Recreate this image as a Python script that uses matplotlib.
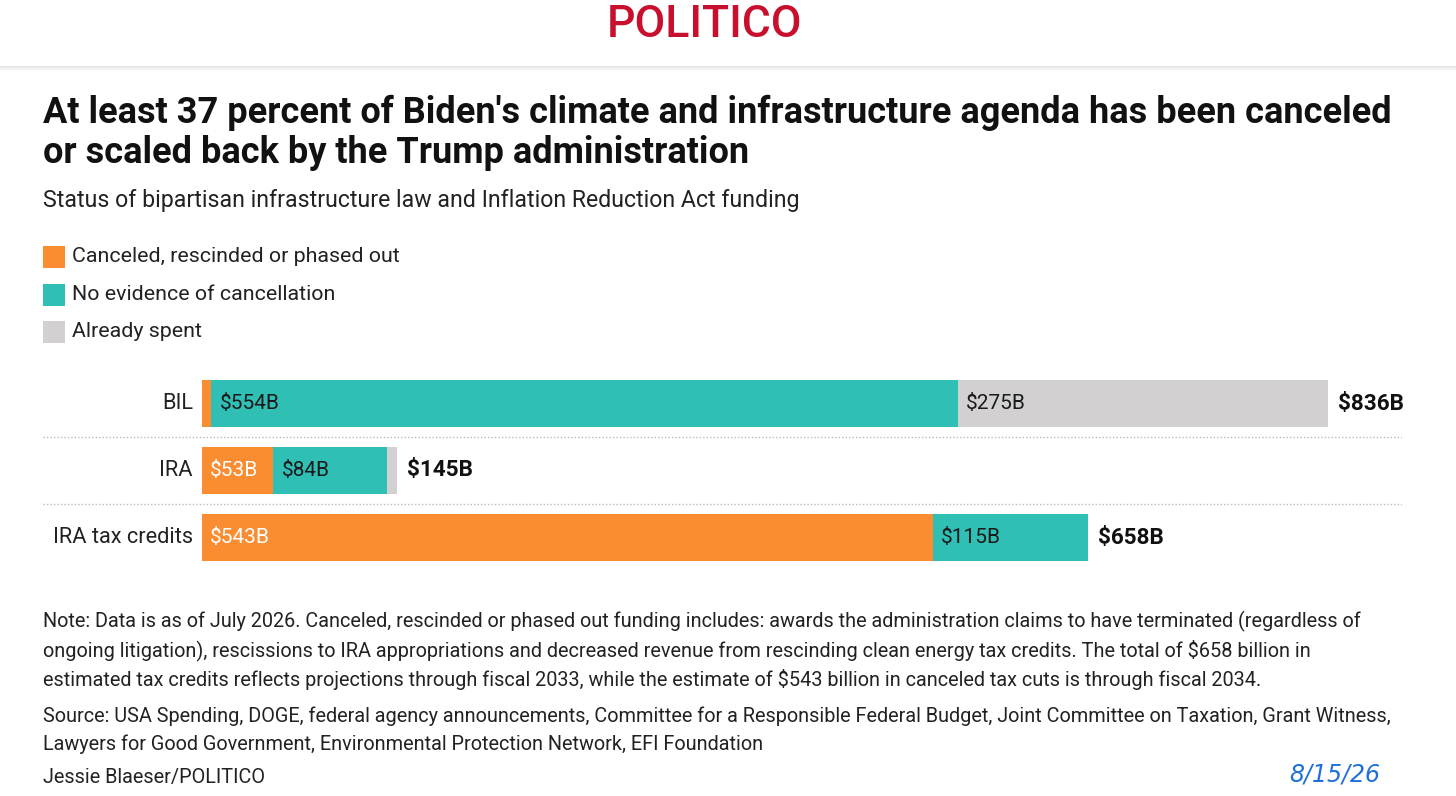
import matplotlib
matplotlib.use("Agg")
import matplotlib.pyplot as plt
from matplotlib.patches import Rectangle

plt.rcParams['font.family'] = ['Roboto', 'DejaVu Sans']

# ---- data ----
categories = ["BIL", "IRA", "IRA tax credits"]
canceled = [7, 53, 543]
no_evidence = [554, 84, 115]
spent = [275, 8, 0]
totals = [836, 145, 658]
series_names = ["Canceled, rescinded or phased out", "No evidence of cancellation", "Already spent"]
colors = ["#FA8C32", "#2FBFB5", "#D2D0D1"]
show_label = [[False, True, True], [True, True, False], [True, True, False]]

title = ("At least 37 percent of Biden's climate and infrastructure agenda has been canceled\n"
         "or scaled back by the Trump administration")
subtitle = "Status of bipartisan infrastructure law and Inflation Reduction Act funding"
note = ("Note: Data is as of July 2026. Canceled, rescinded or phased out funding includes: awards the administration claims to have terminated (regardless of\n"
        "ongoing litigation), rescissions to IRA appropriations and decreased revenue from rescinding clean energy tax credits. The total of $658 billion in\n"
        "estimated tax credits reflects projections through fiscal 2033, while the estimate of $543 billion in canceled tax cuts is through fiscal 2034.")
source = ("Source: USA Spending, DOGE, federal agency announcements, Committee for a Responsible Federal Budget, Joint Committee on Taxation, Grant Witness,\n"
          "Lawyers for Good Government, Environmental Protection Network, EFI Foundation")
credit = "Jessie Blaeser/POLITICO"

W, H = 1456, 796
fig = plt.figure(figsize=(W / 100, H / 100), dpi=100)
fig.patch.set_facecolor("white")

def fx(x):
    return x / W

def fy(y):
    return 1 - y / H

# header shadow
for i, a in enumerate([0.10, 0.08, 0.06, 0.04, 0.02]):
    fig.patches.append(Rectangle((0, fy(67 + i)), 1, 1 / H, transform=fig.transFigure,
                                 color="#000000", alpha=a, lw=0))

fig.text(fx(705), fy(25), "POLITICO", color="#C8102E", fontsize=32, fontweight="medium",
         ha="center", va="center", family=["Roboto", "DejaVu Sans"])

fig.text(fx(43), fy(95), title, fontsize=26, fontweight="bold", color="#111111",
         ha="left", va="top", linespacing=1.14)
fig.text(fx(43), fy(200), subtitle, fontsize=16.7, color="#222222", ha="left", va="center")

# legend
for i, (name, c) in enumerate(zip(series_names, colors)):
    yc = 257 + i * 37.5
    fig.patches.append(Rectangle((fx(43), fy(yc + 11)), 22 / W, 22 / H,
                                 transform=fig.transFigure, color=c, lw=0))
    fig.text(fx(72), fy(yc), name, fontsize=15.4, color="#222222", ha="left", va="center")

# chart axes: pixels 43..1402 horizontally, 370..570 vertically
ax_left, ax_right = 43, 1402
ax_top, ax_bot = 370, 571
ax = fig.add_axes([fx(ax_left), fy(ax_bot), (ax_right - ax_left) / W, (ax_bot - ax_top) / H])
ax.set_facecolor("none")
scale = (1328 - 202) / 836.0
ax.set_xlim(-(202 - ax_left) / scale, (ax_right - 202) / scale)
ax.set_ylim(2.5, -0.5)
ax.axis("off")

bar_h = 0.70
ypos = list(range(len(categories)))
for i in ypos:
    left = 0
    segs = [canceled[i], no_evidence[i], spent[i]]
    for j, v in enumerate(segs):
        if v > 0:
            ax.barh(i, v, left=left, height=bar_h, color=colors[j], lw=0)
            if show_label[i][j]:
                tc = "white" if j == 0 else "#1a1a1a"
                ax.text(left + 8 / scale, i, f"${v}B", color=tc, fontsize=15,
                        ha="left", va="center")
        left += v
    ax.text(totals[i] + 10 / scale, i, f"${totals[i]}B", fontsize=16.2, fontweight="bold",
            color="#111111", ha="left", va="center")
    ax.text(-9 / scale, i, categories[i], fontsize=15.7, color="#222222", ha="right", va="center")

xmin, xmax = ax.get_xlim()
for yl in [0.5, 1.5]:
    ax.plot([xmin, xmax], [yl, yl], color="#BBBBBB", lw=1, ls=(0, (1, 1.5)))

fig.text(fx(43), fy(611), note, fontsize=14.3, color="#222222", ha="left", va="top",
         linespacing=1.45)
fig.text(fx(43), fy(706), source, fontsize=14.3, color="#222222", ha="left", va="top",
         linespacing=1.55)
fig.text(fx(43), fy(777), credit, fontsize=14.3, color="#222222", ha="left", va="center")

fig.text(fx(1335), fy(774), "8/15/26", fontsize=17, color="#1E6FD9", ha="center", va="center",
         style="italic", family=["DejaVu Sans"])

fig.savefig("out.png", dpi=100, facecolor="white")
